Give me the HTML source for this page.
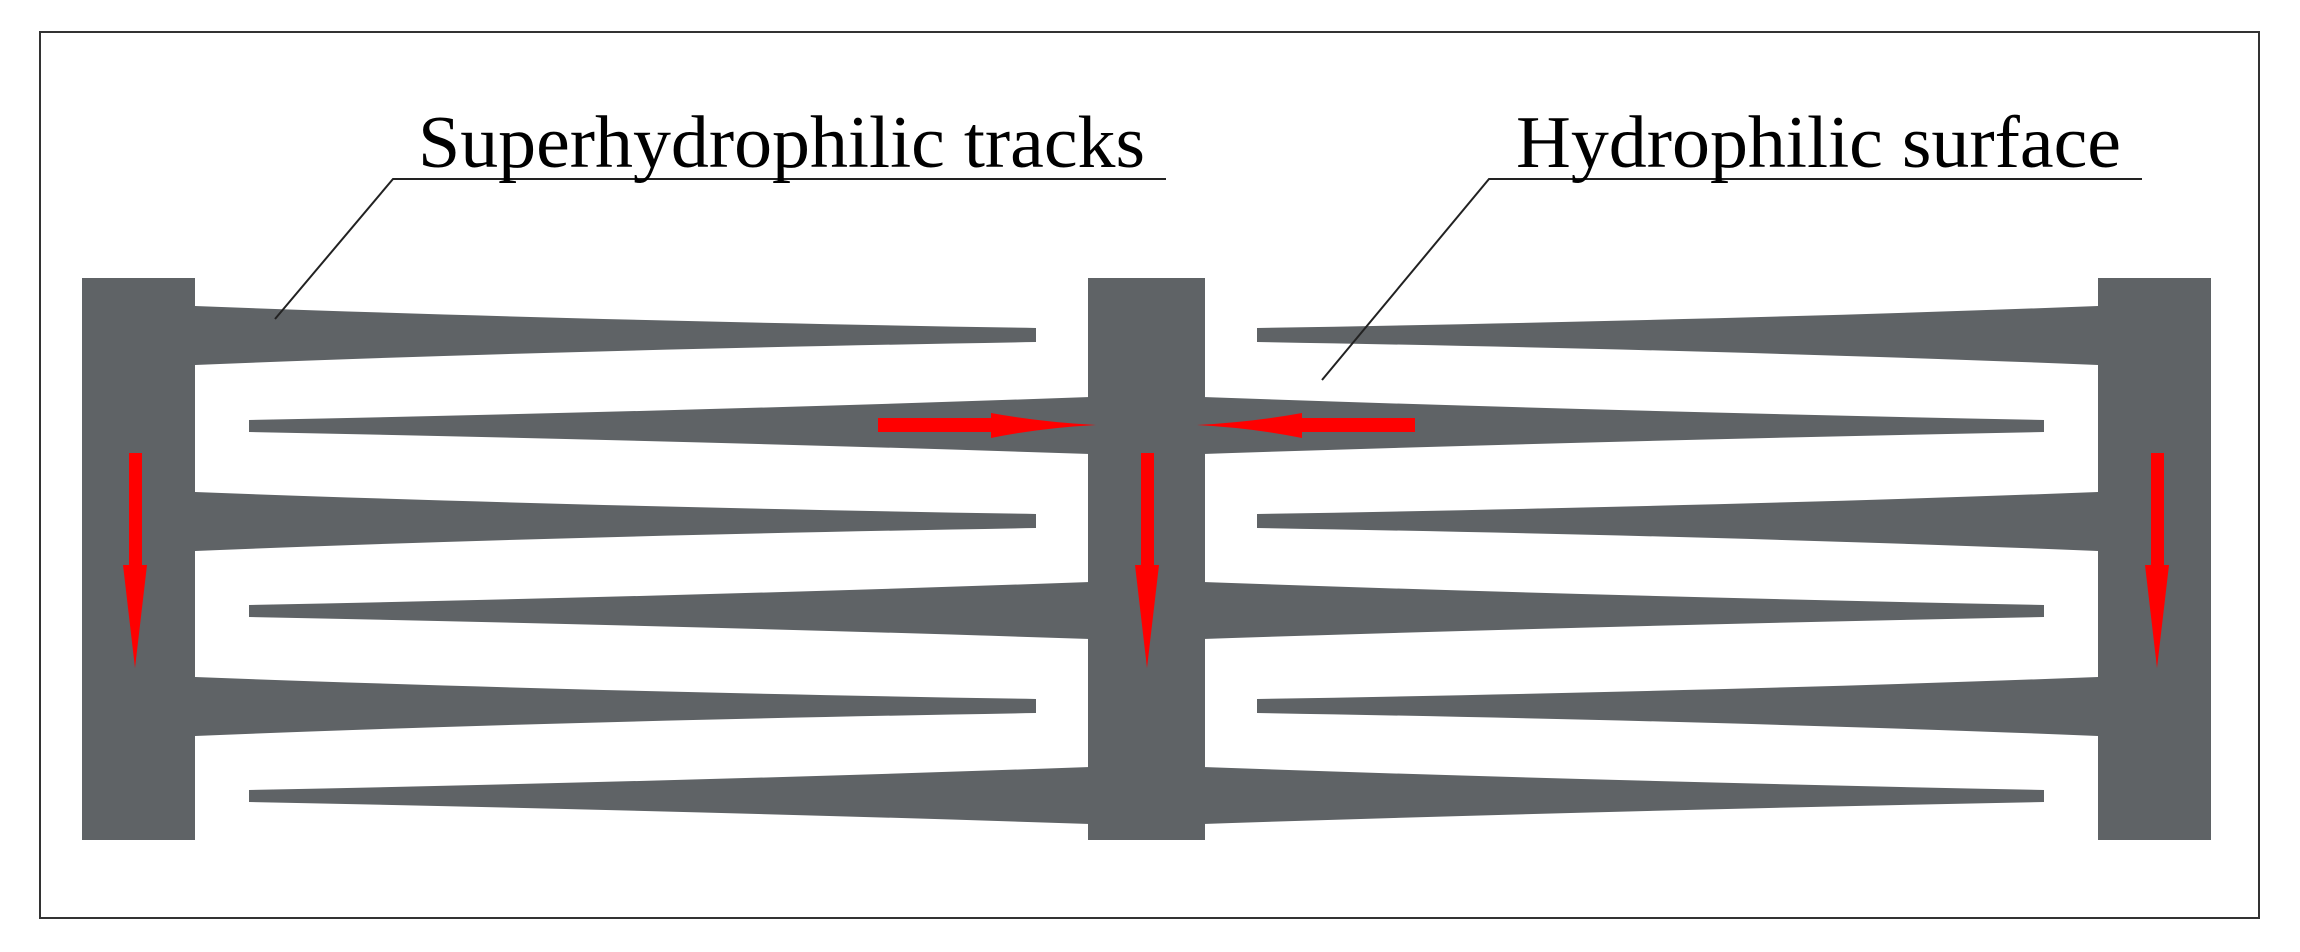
<!DOCTYPE html>
<html><head><meta charset="utf-8"><style>html,body{margin:0;padding:0;background:#fff;}svg{display:block}</style></head>
<body>
<svg width="2300" height="952" viewBox="0 0 2300 952" xmlns="http://www.w3.org/2000/svg">
<rect x="0" y="0" width="2300" height="952" fill="#fff"/>
<rect x="40" y="32" width="2219" height="886" fill="#fff" stroke="#333" stroke-width="2"/>
<defs>
<g id="half" fill="#5f6366">
  <rect x="82" y="278" width="113" height="562"/>
  <rect x="1088" y="278" width="58.5" height="562"/>
  <path d="M195,306 Q600,322 1036,328 L1036,342 Q600,348 195,365 Z" transform="translate(0,0)" opacity="0"/>
  <path d="M195,306 Q560,320 1036,328 L1036,342 Q560,350 195,365 Z"/>
  <path d="M195,492 Q560,506 1036,514 L1036,528 Q560,536 195,551 Z"/>
  <path d="M195,677 Q560,691 1036,699 L1036,713 Q560,721 195,736 Z"/>
  <path d="M1090,397 Q700,411 249,420 L249,432 Q700,441 1090,454 Z"/>
  <path d="M1090,582 Q700,596 249,605 L249,617 Q700,626 1090,639 Z"/>
  <path d="M1090,767 Q700,781 249,790 L249,802 Q700,811 1090,824 Z"/>
</g>
</defs>
<use href="#half"/>
<use href="#half" transform="translate(2293,0) scale(-1,1)"/>
<g fill="#ff0000">
  <rect x="129" y="453" width="13" height="113"/>
  <path d="M123,565 L147,565 L135,668 Z"/>
  <rect x="1141" y="453" width="13" height="113"/>
  <path d="M1135,565 L1159,565 L1147,668 Z"/>
  <rect x="2151" y="453" width="13" height="113"/>
  <path d="M2145,565 L2169,565 L2157,668 Z"/>
  <rect x="878" y="418" width="114" height="14"/>
  <path d="M991,413 Q1040,422 1096,425 Q1040,428 991,438 Z"/>
  <rect x="1302" y="418" width="113" height="14"/>
  <path d="M1302,413 Q1253,422 1197,425 Q1253,428 1302,438 Z"/>
</g>
<g stroke="#222" stroke-width="2" fill="none">
  <polyline points="275,319 393,179 1166,179"/>
  <polyline points="1322,380 1489,179 2142,179"/>
</g>
<g font-family="'Liberation Serif', serif" font-size="74" fill="#000">
  <text x="418" y="167" textLength="727" lengthAdjust="spacingAndGlyphs">Superhydrophilic tracks</text>
  <text x="1516" y="167" textLength="605" lengthAdjust="spacingAndGlyphs">Hydrophilic surface</text>
</g>
</svg>
</body></html>
